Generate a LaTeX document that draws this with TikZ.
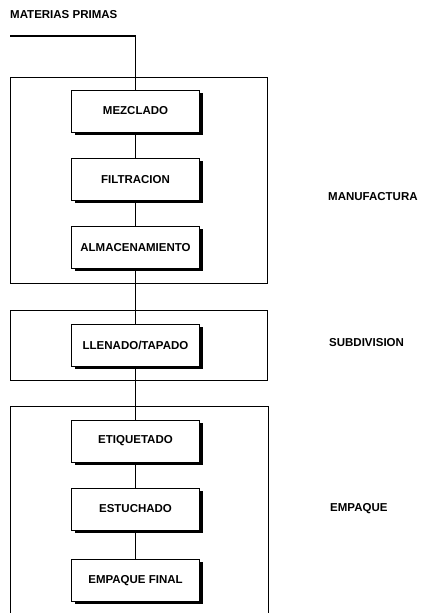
\documentclass[tikz,border=0pt]{standalone}
\usepackage{fontspec}
\setmainfont{Liberation Sans}
\usepackage{tikz}
\usetikzlibrary{positioning,shadows}

\begin{document}
\begin{tikzpicture}[x=1pt, y=-1pt,
		font=\fontsize{11.5}{13}\selectfont\bfseries,
		proceso/.style={draw, line width=0.9pt, fill=white, minimum width=128pt, minimum height=42pt, inner sep=0pt,
			drop shadow={shadow xshift=3pt, shadow yshift=-2.5pt, fill=black, opacity=1}},
		etapa/.style={anchor=west, inner sep=0pt},
		linea/.style={line width=1.6pt},
		marco/.style={line width=0.9pt}]
		\useasboundingbox (0,0) rectangle (428,613);
		
		% etapas (marcos)
		\draw[marco] (10,77) rectangle (267,283);
		\draw[marco] (10,310) rectangle (267,380);
		\draw[marco] (10,613) -- (10,406) -- (268,406) -- (268,613);
		
		% procesos
		\node[proceso] (mezclado) at (135.5,111) {MEZCLADO};
		\node[proceso] (filtracion) at (135.5,179.5) {FILTRACION};
		\node[proceso] (almacen) at (135.5,247.5) {ALMACENAMIENTO};
		\node[proceso] (llenado) at (135.5,345) {LLENADO/TAPADO};
		\node[proceso] (etiquetado) at (135.5,441) {ETIQUETADO};
		\node[proceso] (estuchado) at (135.5,509) {ESTUCHADO};
		\node[proceso] (empaque) at (135.5,580.5) {EMPAQUE FINAL};
		
		% entrada
		\node[etapa] (materias) at (10,15) {MATERIAS PRIMAS};
		\coordinate (E0) at (10,36);
		\coordinate (E1) at (135.5,36);
		\draw[linea] (E0) -- (E1) -- (mezclado.north);
		
		% conexiones
		\draw[linea] (mezclado) -- (filtracion);
		\draw[linea] (filtracion) -- (almacen);
		\draw[linea] (almacen) -- (llenado);
		\draw[linea] (llenado) -- (etiquetado);
		\draw[linea] (etiquetado) -- (estuchado);
		\draw[linea] (estuchado) -- (empaque);
		
		% nombres de etapas
		\node[etapa] (manufactura) at (328,197) {MANUFACTURA};
		\node[etapa] (subdivision) at (329,343) {SUBDIVISION};
		\node[etapa] (empaqueEt) at (330,509) {EMPAQUE};
	\end{tikzpicture}
\end{document}
